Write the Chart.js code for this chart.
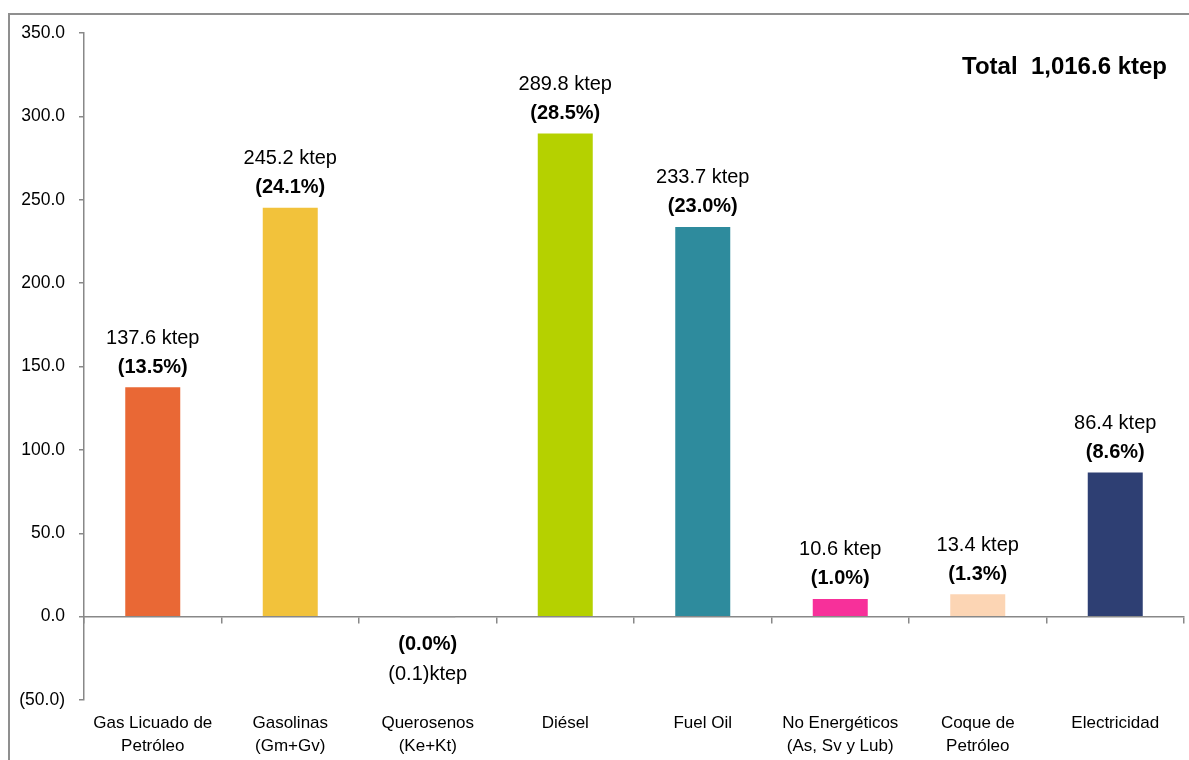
<!DOCTYPE html>
<html>
<head>
<meta charset="utf-8">
<script src="https://cdn.jsdelivr.net/npm/chart.js@4/dist/chart.umd.min.js"></script>
<style>
  html, body { margin: 0; padding: 0; background: #fff; overflow: hidden; }
  .frame { position: absolute; left: 8px; top: 13px; width: 1220px; height: 800px; border: 2px solid #8f8f8f; }
  #chart { position: absolute; left: 0; top: 0; }
</style>
</head>
<body>
<div class="frame"></div>
<canvas id="chart" width="1189" height="760"></canvas>
<script>
const categories = [
  ['Gas Licuado de', 'Petróleo'],
  ['Gasolinas', '(Gm+Gv)'],
  ['Querosenos', '(Ke+Kt)'],
  'Diésel',
  'Fuel Oil',
  ['No Energéticos', '(As, Sv y Lub)'],
  ['Coque de', 'Petróleo'],
  'Electricidad',
];
const values = [137.6, 245.2, -0.1, 289.8, 233.7, 10.6, 13.4, 86.4];
const shares = [13.5, 24.1, 0.0, 28.5, 23.0, 1.0, 1.3, 8.6];
const barColors = ['#E96835', '#F2C23B', '#A6A6A6', '#B5D100', '#2E8B9D', '#F7309A', '#FCD5B4', '#2E3F73'];
const totalLabel = 'Total  1,016.6 ktep';

const AXIS = '#888888';
const FONT = 'Liberation Sans, Arial, sans-serif';

const fmt = v => v.toFixed(1);
const fmtAxis = v => (v < 0 ? '(' + fmt(-v) + ')' : fmt(v));

// ktep / share labels above (or below) each bar, plus the total in the corner
const valueLabels = {
  id: 'valueLabels',
  afterDatasetsDraw(chart) {
    const { ctx, chartArea } = chart;
    const meta = chart.getDatasetMeta(0);
    ctx.save();
    ctx.textAlign = 'center';
    ctx.textBaseline = 'middle';
    ctx.fillStyle = '#000';
    meta.data.forEach((bar, i) => {
      const v = values[i];
      const ktep = v < 0 ? '(' + fmt(-v) + ')ktep' : fmt(v) + ' ktep';
      const pct = '(' + fmt(shares[i]) + '%)';
      const dir = v < 0 ? 1 : -1;
      ctx.font = 'bold 20px ' + FONT;
      ctx.fillText(pct, bar.x, bar.y + dir * (v < 0 ? 28 : 20));
      ctx.font = '20px ' + FONT;
      ctx.fillText(ktep, bar.x, bar.y + dir * (v < 0 ? 58 : 49));
    });
    ctx.textAlign = 'right';
    ctx.font = 'bold 24px ' + FONT;
    ctx.fillText(totalLabel, chartArea.right - 17, 67);
    ctx.restore();
  },
};

new Chart(document.getElementById('chart'), {
  type: 'bar',
  data: {
    labels: categories,
    datasets: [{
      data: values,
      backgroundColor: barColors,
      borderWidth: 0,
      barPercentage: 0.4,
      categoryPercentage: 1,
    }],
  },
  options: {
    responsive: false,
    animation: false,
    layout: { padding: { top: 33, right: 5, left: 0, bottom: 0 } },
    plugins: {
      legend: { display: false },
      tooltip: { enabled: false },
    },
    scales: {
      x: {
        position: 'bottom',
        grid: { display: false, drawTicks: false },
        border: { display: false },
        ticks: {
          color: '#000',
          padding: 12,
          maxRotation: 0,
          autoSkip: false,
          font: { family: FONT, size: 17, lineHeight: 1.35 },
        },
        afterFit: scale => { scale.height = 60; },
      },
      // zero line with category separators
      x2: {
        type: 'category',
        position: { y: 0 },
        offset: true,
        grid: { offset: true, drawOnChartArea: false, tickLength: 6, color: AXIS, lineWidth: 1.5 },
        border: { color: AXIS, width: 1.5 },
        ticks: { display: false },
      },
      y: {
        min: -50,
        max: 350,
        grid: { drawOnChartArea: false, tickLength: 5, color: AXIS, lineWidth: 1.5 },
        border: { color: AXIS, width: 1.5 },
        ticks: {
          stepSize: 50,
          color: '#000',
          padding: 14,
          font: { family: FONT, size: 17.5 },
          callback: v => fmtAxis(v),
        },
        afterFit: scale => { scale.width = 84; },
      },
    },
  },
  plugins: [valueLabels],
});
</script>
</body>
</html>
